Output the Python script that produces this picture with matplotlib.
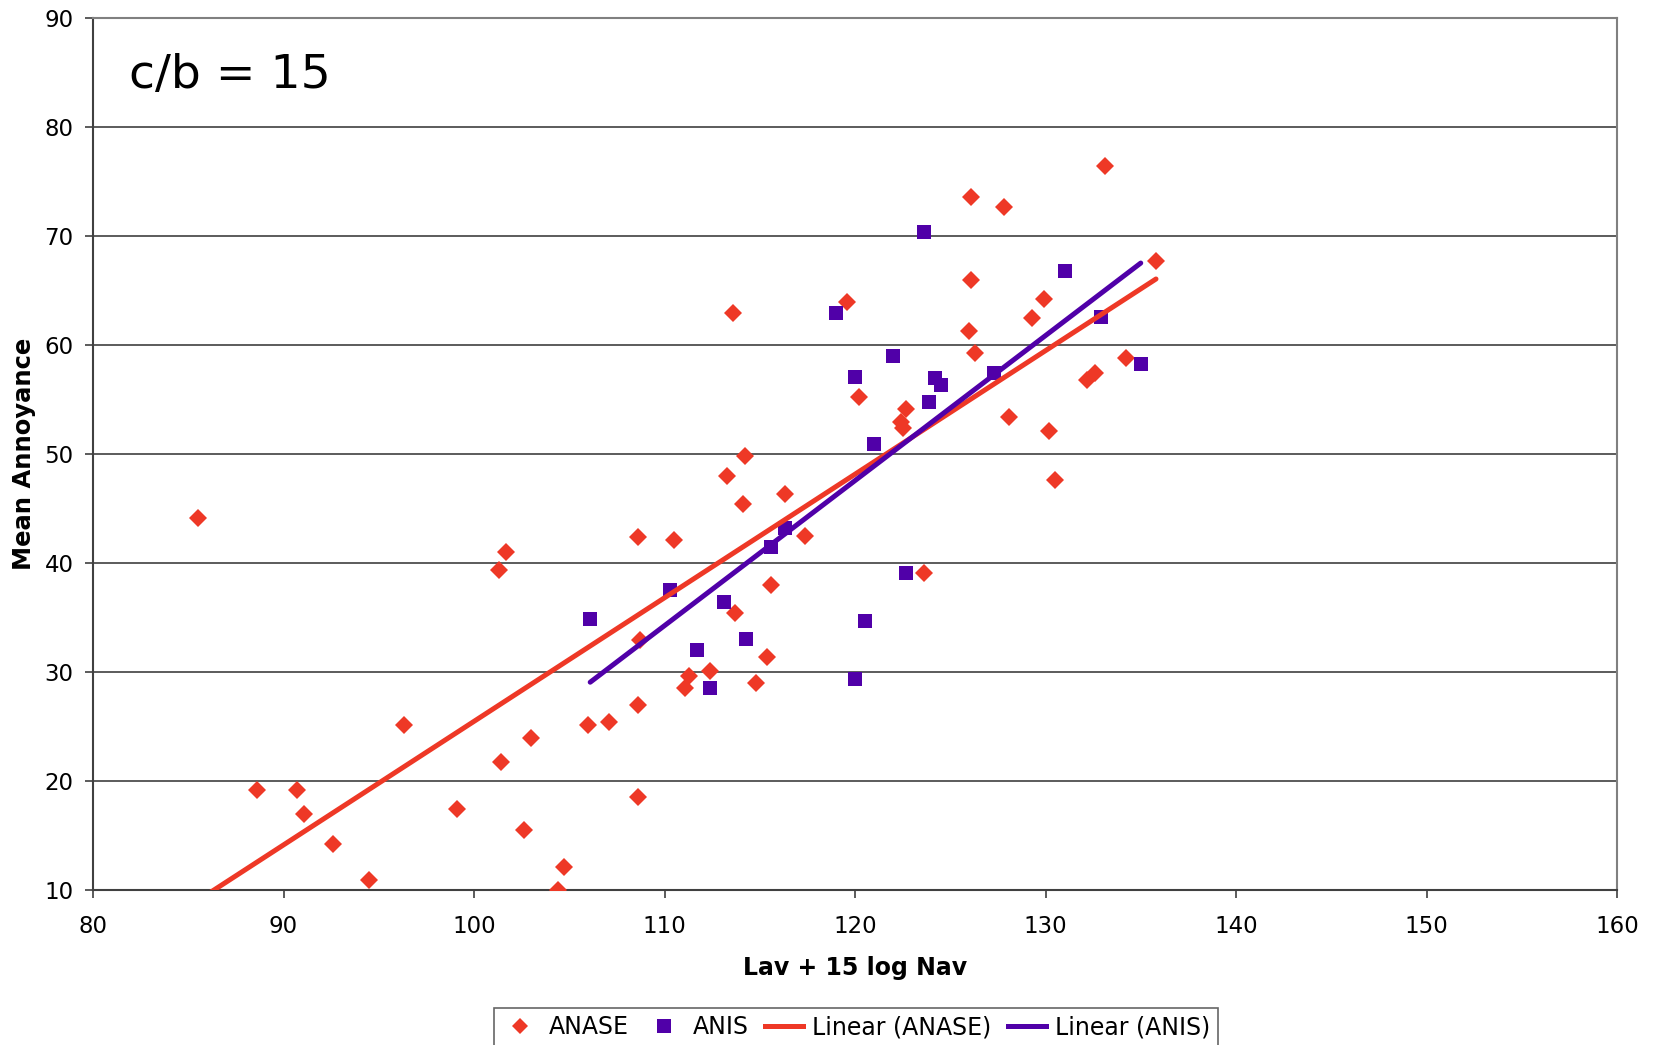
import numpy as np
import matplotlib
matplotlib.use("Agg")
import matplotlib.pyplot as plt
from matplotlib.lines import Line2D

# ANASE data (x = Lav + 15 log Nav, y = Mean Annoyance)
anase_x = [85.5, 88.6, 90.7, 91.1, 92.6, 94.5, 96.3, 99.1, 101.3, 101.7,
           101.4, 102.6, 103.0, 104.4, 104.7, 106.0, 107.1, 108.6, 108.6, 108.6,
           108.7, 110.5, 111.1, 111.3, 112.4, 113.3, 113.6, 113.7, 114.1, 114.2,
           114.8, 115.4, 115.6, 116.3, 117.4, 119.6, 120.2, 122.4, 122.5, 122.7,
           123.6, 126.1, 126.1, 126.0, 126.3, 127.8, 128.1, 129.3, 129.9, 130.2,
           130.5, 132.2, 132.6, 133.1, 134.2, 135.8]
anase_y = [44.1, 19.2, 19.2, 17.0, 14.2, 10.9, 25.1, 17.4, 39.4, 41.0,
           21.7, 15.5, 23.9, 10.0, 12.1, 25.1, 25.4, 42.4, 27.0, 18.5,
           32.9, 42.1, 28.5, 29.6, 30.1, 48.0, 62.9, 35.4, 45.4, 49.8,
           29.0, 31.4, 38.0, 46.3, 42.5, 63.9, 55.2, 52.9, 52.4, 54.1,
           39.1, 73.6, 66.0, 61.3, 59.3, 72.7, 53.4, 62.5, 64.2, 52.1,
           47.6, 56.8, 57.4, 76.4, 58.8, 67.7]

# ANIS data
anis_x = [106.1, 110.3, 111.7, 112.4, 113.1, 114.3, 115.6, 116.3, 119.0, 120.0,
          120.0, 120.5, 121.0, 122.0, 122.7, 123.6, 123.9, 124.2, 124.5, 127.3,
          131.0, 132.9, 135.0]
anis_y = [34.9, 37.5, 32.0, 28.5, 36.4, 33.0, 41.5, 43.2, 62.9, 57.1,
          29.4, 34.7, 50.9, 59.0, 39.1, 70.4, 54.8, 57.0, 56.3, 57.4,
          66.8, 62.6, 58.3]

x_ticks = [80, 90, 100, 110, 120, 130, 140, 150, 160]
y_ticks = [10, 20, 30, 40, 50, 60, 70, 80, 90]

RED = '#EE3826'
PURPLE = '#5000A8'

fig = plt.figure(figsize=(16.55, 10.45), dpi=100)
ax = fig.add_axes([93/1655, 1-890/1045, (1617-93)/1655, (890-18)/1045])

# regression lines
ax_x = np.array(anase_x); ay = np.array(anase_y)
p1 = np.polyfit(ax_x, ay, 1)
xs1 = np.array([ax_x.min(), ax_x.max()])
bx = np.array(anis_x); by = np.array(anis_y)
p2 = np.polyfit(bx, by, 1)
xs2 = np.array([bx.min(), bx.max()])

ax.plot(anase_x, anase_y, linestyle='none', marker='D', ms=9, color=RED,
        markeredgewidth=0, zorder=3)
ax.plot(anis_x, anis_y, linestyle='none', marker='s', ms=10.5, color=PURPLE,
        markeredgewidth=0, zorder=3)
ax.plot(xs1, np.polyval(p1, xs1), color=RED, lw=3.6, solid_capstyle='round', zorder=4)
ax.plot(xs2, np.polyval(p2, xs2), color=PURPLE, lw=3.6, solid_capstyle='round', zorder=4)

ax.set_xlim(80, 160)
ax.set_ylim(10, 90)
ax.set_xticks(x_ticks)
ax.set_yticks(y_ticks)
ax.yaxis.grid(True, color='#404040', lw=1.2)
ax.set_axisbelow(True)
ax.tick_params(axis='both', direction='out', length=6, width=1.2, color='#404040',
               labelsize=16.5)
ax.tick_params(axis='x', pad=12)
ax.tick_params(axis='y', pad=8)
for s in ['left', 'bottom']:
    ax.spines[s].set_color('#404040')
    ax.spines[s].set_linewidth(1.5)
for s in ['top', 'right']:
    ax.spines[s].set_color('#808080')
    ax.spines[s].set_linewidth(1.5)

fig.text(855/1655, 1-968/1045, 'Lav + 15 log Nav', ha='center', va='center',
         fontsize=17, fontweight='bold')
fig.text(24/1655, 1-454/1045, 'Mean Annoyance', ha='center', va='center',
         rotation=90, fontsize=17.5, fontweight='bold')
fig.text(129/1655, 1-88/1045, 'c/b = 15', ha='left', va='baseline', fontsize=34)

handles = [
    Line2D([], [], linestyle='none', marker='D', ms=8.5, color=RED, markeredgewidth=0),
    Line2D([], [], linestyle='none', marker='s', ms=10, color=PURPLE, markeredgewidth=0),
    Line2D([], [], color=RED, lw=3.6),
    Line2D([], [], color=PURPLE, lw=3.6),
]
labels = ['ANASE', 'ANIS', 'Linear (ANASE)', 'Linear (ANIS)']
leg = fig.legend(handles, labels, loc='upper center', bbox_to_anchor=(856/1655, 1-1008/1045),
                 ncol=4, fontsize=17, frameon=True, fancybox=False, edgecolor='#404040',
                 handlelength=1.6, handletextpad=0.4, columnspacing=0.7,
                 borderpad=0.3, borderaxespad=0)
leg.get_frame().set_linewidth(1.2)

fig.savefig('out.png', dpi=100)
